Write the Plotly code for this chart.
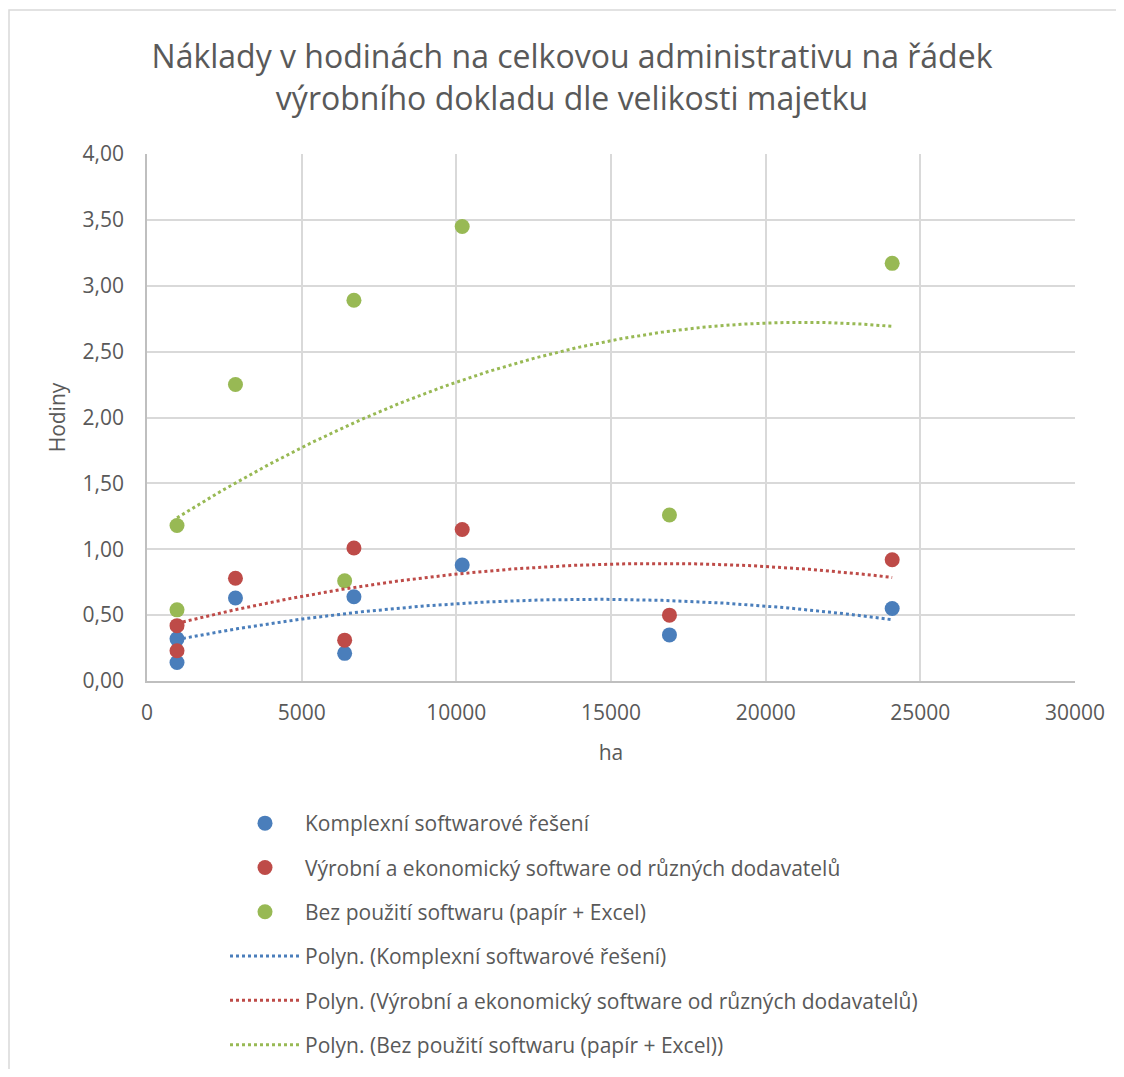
import numpy as np
import plotly.graph_objects as go

# Data
ha = [970, 970, 2860, 6390, 6690, 10190, 16890, 24090]
komplexni = [0.14, 0.32, 0.63, 0.21, 0.64, 0.88, 0.35, 0.55]
vyrobni = [0.23, 0.42, 0.78, 0.31, 1.01, 1.15, 0.50, 0.92]
bez_sw = [0.54, 1.18, 2.25, 0.76, 2.89, 3.45, 1.26, 3.17]

names = ["Komplexní softwarové řešení",
         "Výrobní a ekonomický software od různých dodavatelů",
         "Bez použití softwaru (papír + Excel)"]
colors = ["#4A7EBB", "#BE4B48", "#98B954"]
series = [komplexni, vyrobni, bez_sw]

FONT = "Open Sans"
GREY = "#595959"

fig = go.Figure()
for i, (nm, ys, c) in enumerate(zip(names, series, colors)):
    fig.add_trace(go.Scatter(x=ha, y=ys, mode="markers", name=nm,
                             marker=dict(color=c, size=15, line=dict(width=0)),
                             legendgroup=f"g{i}", legendrank=i + 1))

xs = np.array(ha, dtype=float)
xfit = np.linspace(xs.min(), xs.max(), 200)
for i, (nm, ys, c) in enumerate(zip(names, series, colors)):
    coef = np.polyfit(xs, np.array(ys), 2)
    fig.add_trace(go.Scatter(x=xfit, y=np.polyval(coef, xfit), mode="lines",
                             name=f"Polyn. ({nm})",
                             line=dict(color=c, width=3, dash="dot"),
                             legendgroup=f"t{i}", legendrank=i + 4))

# page offset (body margin) and plot area in page px
OFF = 8
W, H = 1124 - 2 * OFF, 1077 - 2 * OFF
PL, PR, PT, PB = 147, 1075, 154, 681
L, R, T, B = PL - OFF, PR - OFF, PT - OFF, PB - OFF
def px2x(p): return (p - PL) / (PR - PL)
def px2y(p): return (PB - p) / (PB - PT)

fig.update_layout(
    width=W, height=H,
    margin=dict(l=L, r=W - R, t=T, b=H - B, autoexpand=False),
    paper_bgcolor="white", plot_bgcolor="white",
    separators=", ",
    font=dict(family=FONT, color=GREY, size=21),
    title=dict(text="Náklady v hodinách na celkovou administrativu na řádek<br>výrobního dokladu dle velikosti majetku",
               xref="paper", x=px2x(572), xanchor="center", y=1 - 60 / H, yanchor="top",
               font=dict(family=FONT, size=32, color=GREY)),
    xaxis=dict(range=[0, 30000], dtick=5000, tickformat="d",
               showgrid=True, gridcolor="#D9D9D9", gridwidth=1.5,
               showline=True, linecolor="#BFBFBF", linewidth=1.5, mirror=False,
               zeroline=False, ticks="", ticklen=0, ticklabelstandoff=12,
               tickfont=dict(size=21, color=GREY),
               title=dict(text="ha", font=dict(size=21, color=GREY), standoff=20)),
    yaxis=dict(range=[0, 4], dtick=0.5, tickformat=".2f",
               showgrid=True, gridcolor="#D9D9D9", gridwidth=1.5,
               showline=True, linecolor="#BFBFBF", linewidth=1.5,
               zeroline=False, ticks="", ticklen=0, ticklabelstandoff=17,
               tickfont=dict(size=21, color=GREY),
               title=dict(text="Hodiny", font=dict(size=21, color=GREY), standoff=11)),
    showlegend=True,
    legend=dict(orientation="v", x=px2x(225), xanchor="left",
                y=px2y(803), yanchor="top",
                itemwidth=70, tracegroupgap=14, traceorder="grouped",
                font=dict(size=21, color=GREY), bgcolor="rgba(0,0,0,0)"),
    shapes=[dict(type="rect", xref="paper", yref="paper",
                 x0=px2x(9), x1=px2x(1160), y0=px2y(1120), y1=px2y(10),
                 line=dict(color="#D9D9D9", width=1.5), fillcolor="rgba(0,0,0,0)",
                 layer="below")],
)

fig.write_html("out.html")
